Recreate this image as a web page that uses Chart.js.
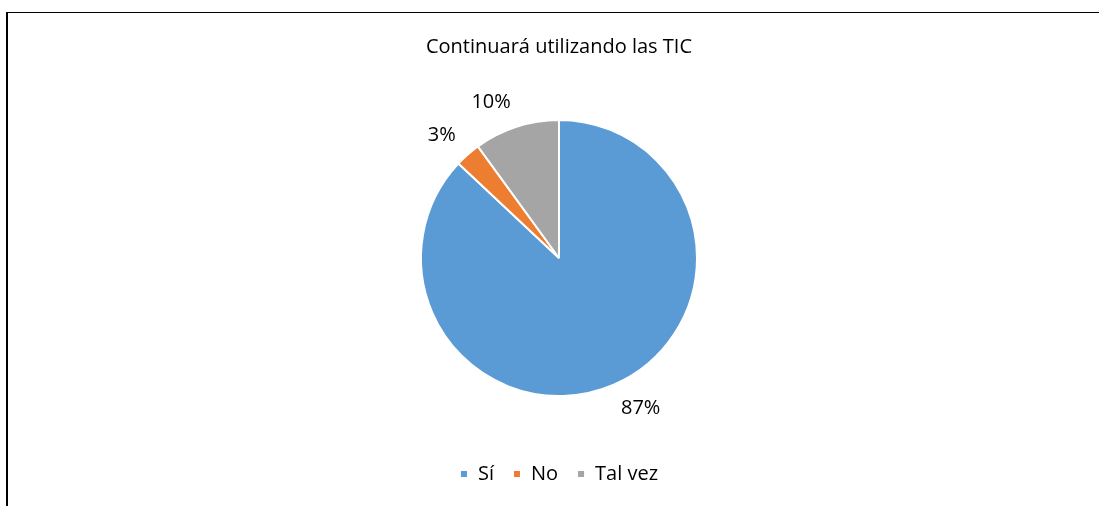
<!DOCTYPE html>
<html>
<head>
<meta charset="utf-8">
<script src="https://cdn.jsdelivr.net/npm/chart.js@4.4.1/dist/chart.umd.min.js"></script>
<style>
  html, body { margin: 0; padding: 0; background: #fff; }
  #wrap { position: relative; width: 1099px; height: 506px; overflow: hidden; }
  #frame { position: absolute; left: 6px; top: 12px; width: 1200px; height: 600px;
           border-left: 2px solid #000; border-top: 1px solid #000; }
  #chart { position: absolute; left: 0; top: 0; }
</style>
</head>
<body>
<div id="wrap">
  <div id="frame"></div>
  <canvas id="chart" width="1099" height="506"></canvas>
</div>
<script>
const titleText = "Continuará utilizando las TIC";
const categories = ["Sí", "No", "Tal vez"];
const values = [87, 3, 10];
const colors = ["#5B9BD5", "#ED7D31", "#A5A5A5"];

const FONT = "'Open Sans', 'Noto Sans', sans-serif";

// etiquetas de porcentaje fuera del pastel
const outsideLabels = {
    id: "outsideLabels",
    afterDatasetsDraw(chart) {
        const ctx = chart.ctx;
        const meta = chart.getDatasetMeta(0);
        const total = values.reduce((a, b) => a + b, 0);
        ctx.save();
        ctx.font = "20px " + FONT;
        ctx.fillStyle = "#000";
        ctx.textBaseline = "middle";
        meta.data.forEach((arc, i) => {
            const p = arc.getProps(["x", "y", "startAngle", "endAngle", "outerRadius"], true);
            const mid = (p.startAngle + p.endAngle) / 2;
            const c = Math.cos(mid), s = Math.sin(mid);
            const d = p.outerRadius + 18;
            const pct = Math.round(values[i] / total * 100) + "%";
            ctx.textAlign = c >= 0 ? "left" : "right";
            ctx.fillText(pct, p.x + c * d, p.y + s * d + s * 8);
        });
        ctx.restore();
    }
};

const ctx = document.getElementById("chart").getContext("2d");
new Chart(ctx, {
    type: "pie",
    plugins: [outsideLabels],
    data: {
        labels: categories,
        datasets: [{
            data: values,
            backgroundColor: colors,
            borderColor: "#fff",
            borderWidth: 2,
            radius: 138
        }]
    },
    options: {
        responsive: false,
        animation: false,
        layout: { padding: { left: 19, right: 0, top: 0, bottom: 12 } },
        plugins: {
            title: {
                display: true,
                text: titleText,
                color: "#000",
                font: { family: FONT, size: 20, weight: "normal" },
                padding: { top: 35, bottom: 12 }
            },
            legend: {
                position: "bottom",
                labels: {
                    color: "#000",
                    font: { family: FONT, size: 20 },
                    usePointStyle: true,
                    pointStyle: "rect",
                    boxWidth: 8,
                    boxHeight: 8,
                    padding: 19
                }
            },
            tooltip: { enabled: false }
        }
    }
});
</script>
</body>
</html>
